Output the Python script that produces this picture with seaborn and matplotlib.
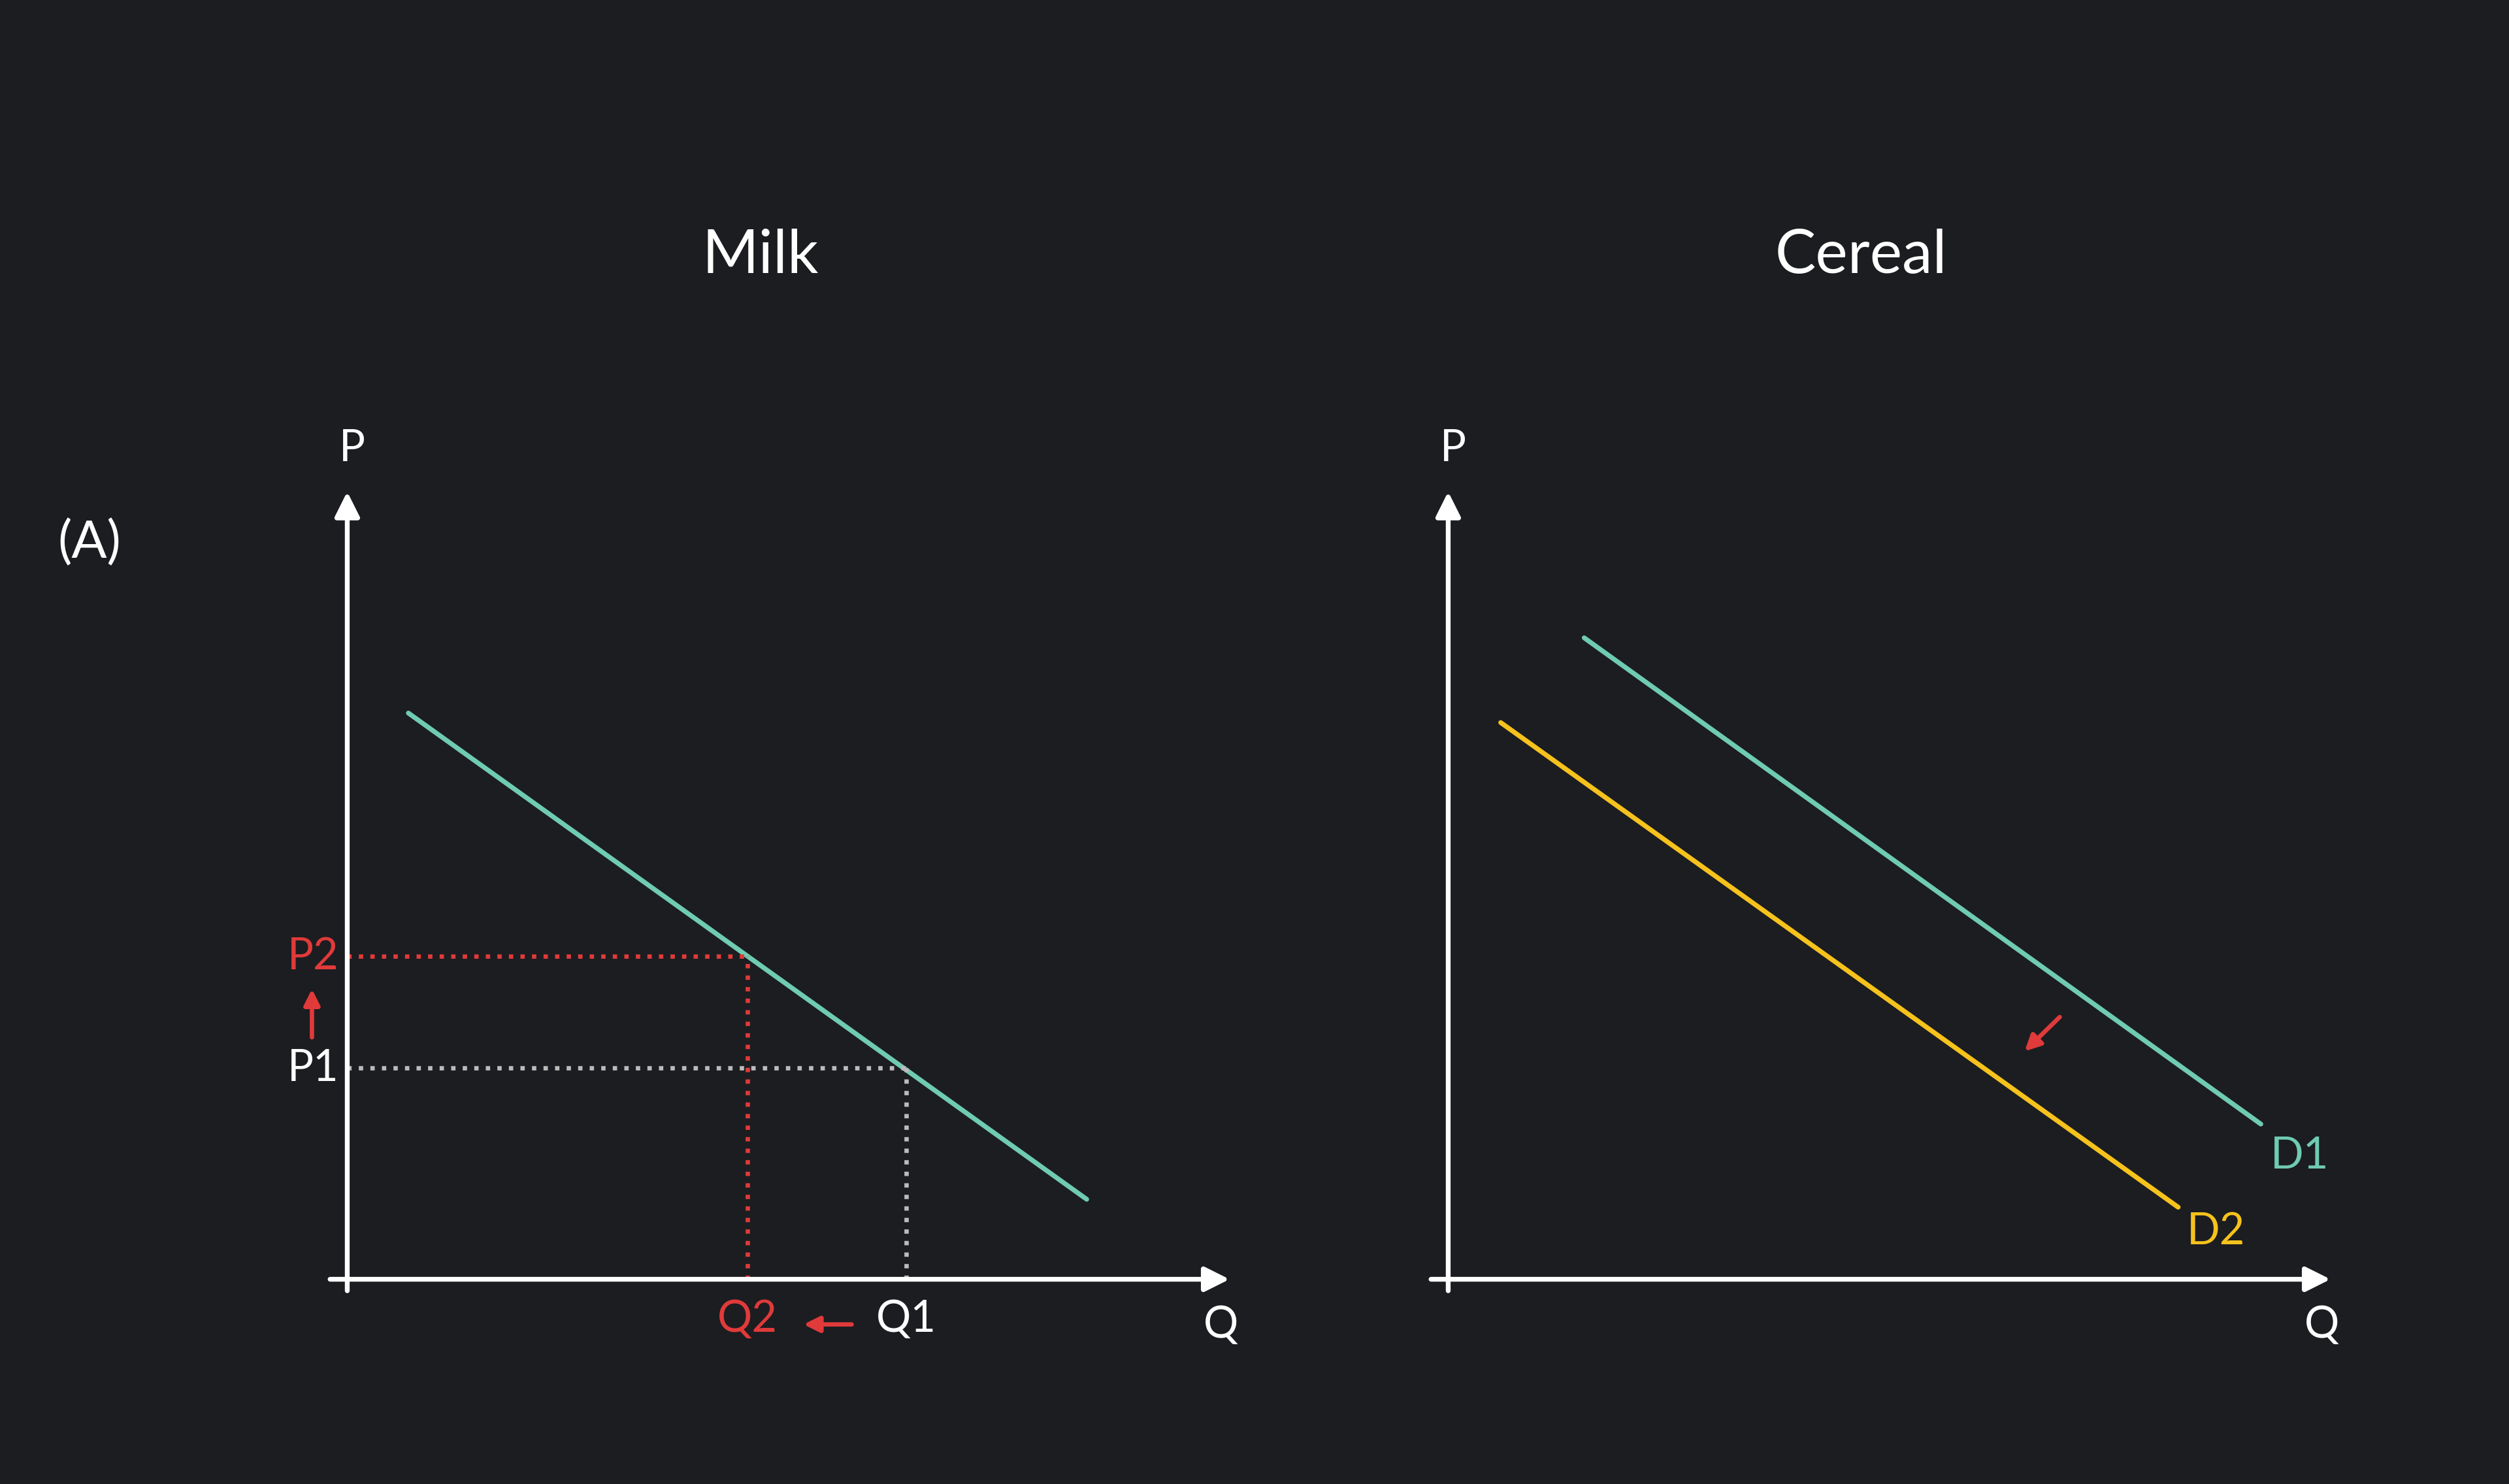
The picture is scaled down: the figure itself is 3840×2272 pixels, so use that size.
import matplotlib
matplotlib.use("Agg")
import matplotlib.pyplot as plt
import seaborn as sns
import pandas as pd

sns.set_theme(style="white")
plt.rcParams['font.family'] = ['Lato', 'DejaVu Sans']

BG = "#1c1d21"; TEAL = "#6fcbb1"; RED = "#e03a3a"; YEL = "#f6c21c"; WHITE = "#ffffff"; GRAY = "#bbbbbb"

titles = ["Milk", "Cereal"]
milk_q = [0.71, 8.59]; milk_p = [7.15, 1.01]
p1, q1 = 2.67, 6.49
p2, q2 = 4.08, 4.65
d1_q = [1.58, 9.44]; d1_p = [8.10, 1.96]
d2_q = [0.61, 8.48]; d2_p = [7.03, 0.91]

fig = plt.figure(figsize=(16, 9.4708), dpi=240, facecolor=BG)
axes = [fig.add_axes([0.1384, 0.1379, 0.3431, 0.5334]), fig.add_axes([0.5772, 0.1379, 0.3431, 0.5334])]
for ax, t in zip(axes, titles):
    ax.set_xlim(0, 10); ax.set_ylim(0, 10); ax.axis('off')
    ax.annotate("", xy=(10.3, 0), xytext=(-0.25, 0), annotation_clip=False,
                arrowprops=dict(arrowstyle="-|>,head_length=0.8,head_width=0.4", color=WHITE, lw=2.2))
    ax.annotate("", xy=(0, 10), xytext=(0, -0.2), annotation_clip=False,
                arrowprops=dict(arrowstyle="-|>,head_length=0.8,head_width=0.4", color=WHITE, lw=2.2))
    ax.text(0.06, 10.5, "P", color=WHITE, fontsize=20, ha='center', va='center')
    ax.text(10.15, -0.57, "Q", color=WHITE, fontsize=20, ha='center', va='center')
    ax.text(4.8, 12.93, t, color=WHITE, fontsize=28, ha='center', va='center', clip_on=False)

ax = axes[0]
sns.lineplot(x=milk_q, y=milk_p, ax=ax, color=TEAL, lw=2.2)
ax.plot([0, q1], [p1, p1], ls=':', color=GRAY, lw=2); ax.plot([q1, q1], [0, p1], ls=':', color=GRAY, lw=2)
ax.plot([0, q2], [p2, p2], ls=':', color=RED, lw=2); ax.plot([q2, q2], [0, p2], ls=':', color=RED, lw=2)
ax.text(-0.1, p2, "P2", color=RED, fontsize=20, ha='right', va='center')
ax.text(-0.1, p1, "P1", color=WHITE, fontsize=20, ha='right', va='center')
ax.text(q2, -0.5, "Q2", color=RED, fontsize=20, ha='center', va='center')
ax.text(q1, -0.5, "Q1", color=WHITE, fontsize=20, ha='center', va='center')
ax.annotate("", xy=(-0.41, 3.72), xytext=(-0.41, 3.0), annotation_clip=False,
            arrowprops=dict(arrowstyle="-|>,head_length=0.5,head_width=0.25", color=RED, lw=2))
ax.annotate("", xy=(5.25, -0.57), xytext=(5.91, -0.57), annotation_clip=False,
            arrowprops=dict(arrowstyle="-|>,head_length=0.5,head_width=0.25", color=RED, lw=2))

ax = axes[1]
sns.lineplot(x=d1_q, y=d1_p, ax=ax, color=TEAL, lw=2.2)
sns.lineplot(x=d2_q, y=d2_p, ax=ax, color=YEL, lw=2.2)
ax.text(9.89, 1.56, "D1", color=TEAL, fontsize=20, ha='center', va='center')
ax.text(8.92, 0.61, "D2", color=YEL, fontsize=20, ha='center', va='center')
ax.annotate("", xy=(6.66, 2.84), xytext=(7.14, 3.35),
            arrowprops=dict(arrowstyle="-|>,head_length=0.5,head_width=0.25", color=RED, lw=2))

fig.text(0.0357, 0.634, "(A)", color=WHITE, fontsize=24, ha='center', va='center')
fig.savefig("out.png", facecolor=BG)
